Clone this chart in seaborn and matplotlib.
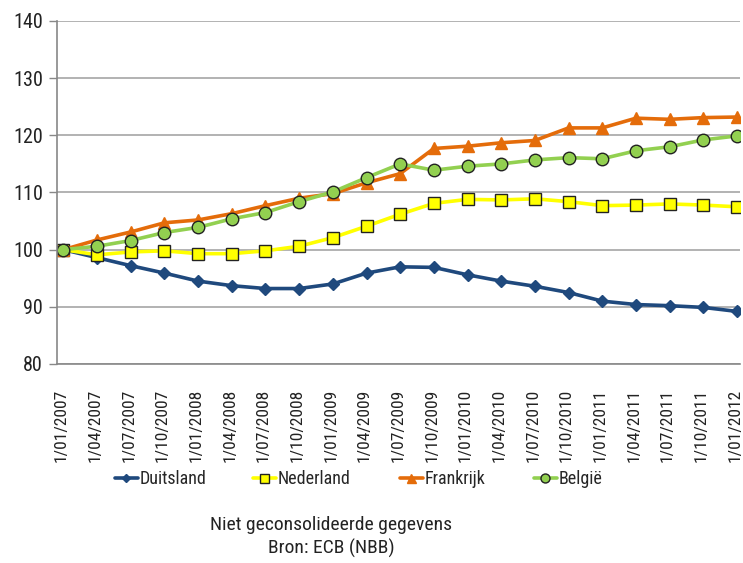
import matplotlib
matplotlib.use("Agg")
import matplotlib.pyplot as plt
from matplotlib import font_manager
from matplotlib.transforms import ScaledTranslation
import seaborn as sns
import pandas as pd

# Quarterly index values (1/01/2007 = 100)
dates = ["1/01/2007", "1/04/2007", "1/07/2007", "1/10/2007",
         "1/01/2008", "1/04/2008", "1/07/2008", "1/10/2008",
         "1/01/2009", "1/04/2009", "1/07/2009", "1/10/2009",
         "1/01/2010", "1/04/2010", "1/07/2010", "1/10/2010",
         "1/01/2011", "1/04/2011", "1/07/2011", "1/10/2011",
         "1/01/2012"]
duitsland = [100.0, 98.6, 97.2, 95.9, 94.5, 93.7, 93.2, 93.2, 94.0, 95.9,
             97.0, 96.9, 95.6, 94.5, 93.6, 92.5, 91.0, 90.4, 90.2, 89.9, 89.2]
nederland = [100.0, 99.1, 99.6, 99.8, 99.3, 99.3, 99.8, 100.6, 102.1, 104.1,
             106.2, 108.1, 108.8, 108.7, 108.9, 108.4, 107.7, 107.8, 108.0, 107.8, 107.5]
frankrijk = [100.0, 101.7, 103.1, 104.7, 105.2, 106.3, 107.7, 109.0, 109.8, 111.7,
             113.3, 117.7, 118.1, 118.7, 119.1, 121.3, 121.3, 123.0, 122.8, 123.1, 123.2]
belgie = [100.0, 100.6, 101.6, 103.0, 103.9, 105.4, 106.5, 108.4, 110.1, 112.6,
          115.0, 113.9, 114.6, 115.0, 115.7, 116.1, 115.9, 117.3, 118.0, 119.2, 119.9]
y_ticks = [80, 90, 100, 110, 120, 130, 140]

series_names = ["Duitsland", "Nederland", "Frankrijk", "België"]
series_values = [duitsland, nederland, frankrijk, belgie]

sns.set_theme(style="white")
installed = {f.name for f in font_manager.fontManager.ttflist}
narrow = [f for f in ["Liberation Sans Narrow", "Arial Narrow", "Roboto Condensed",
                      "Open Sans Condensed"] if f in installed]
families = narrow + [f for f in ["Liberation Sans", "DejaVu Sans"] if f in installed]
plt.rcParams["font.family"] = families
# condensed faces fit wider text; otherwise shrink a little
scale = 1.0 if narrow else 0.86

rows = []
for name, vals in zip(series_names, series_values):
    for i, v in enumerate(vals):
        rows.append({"pos": i, "datum": dates[i], "land": name, "waarde": v})
df = pd.DataFrame(rows)

styles = {
    "Duitsland": dict(color="#1F497D", marker="D", ms=6, mfc="#1F497D", mec="#1F497D", lw=2.6),
    "Nederland": dict(color="#FFFF00", marker="s", ms=9, mfc="#FFFF00", mec="#222222", lw=2.6),
    "Frankrijk": dict(color="#E46C0A", marker="^", ms=9, mfc="#E46C0A", mec="#E46C0A", lw=2.6),
    "België": dict(color="#92D050", marker="o", ms=9, mfc="#92D050", mec="#222222", lw=2.6),
}

fig = plt.figure(figsize=(7.43, 5.63), dpi=100)
ax = fig.add_axes([57 / 743, 1 - 364 / 563, (740 - 57) / 743, (364 - 21) / 563])

palette = {k: v["color"] for k, v in styles.items()}
sns.lineplot(data=df, x="pos", y="waarde", hue="land", hue_order=series_names,
             palette=palette, ax=ax, legend=False, linewidth=2.6)
for line, name in zip(ax.get_lines(), series_names):
    st = styles[name]
    line.set_marker(st["marker"])
    line.set_markersize(st["ms"])
    line.set_markerfacecolor(st["mfc"])
    line.set_markeredgecolor(st["mec"])
    line.set_markeredgewidth(1.0)
    line.set_linewidth(st["lw"])
    line.set_solid_joinstyle("round")

ax.set_ylim(80, 140)
ax.set_xlim(-0.19, 20.09)
ax.set_yticks(y_ticks)
ax.set_yticklabels([str(t) for t in y_ticks], fontsize=14 * scale + 0.5, color="#222222")
ax.yaxis.grid(True, color="#A6A6A6", linewidth=1.2)
ax.set_axisbelow(True)

# labelled positions at the data points, tick marks slightly to the left
ax.set_xticks(range(len(dates)))
ax.set_xticklabels(dates, rotation=90, fontsize=12.5 * scale, color="#222222")
ax.tick_params(axis="x", length=0, pad=18)
shift = ScaledTranslation(-2 / 100, 0, fig.dpi_scale_trans)
for lbl in ax.get_xticklabels():
    lbl.set_transform(lbl.get_transform() + shift)
ax.set_xticks([i - 0.18 for i in range(len(dates))], minor=True)
ax.tick_params(axis="x", which="minor", length=6, width=1, color="#888888", direction="out")
ax.tick_params(axis="y", length=6, width=1, color="#888888", direction="out", left=True, pad=4)

for side in ["top", "right"]:
    ax.spines[side].set_visible(False)
for side in ["left", "bottom"]:
    ax.spines[side].set_color("#888888")
    ax.spines[side].set_linewidth(1.2)
ax.set_xlabel("")
ax.set_ylabel("")

# one legend entry per series, placed along a row beneath the axis labels
legend_x = [115, 253, 400, 534]
for name, lx in zip(series_names, legend_x):
    st = styles[name]
    h, = ax.plot([], [], color=st["color"], marker=st["marker"],
                 ms=st["ms"] * 0.72, mfc=st["mfc"], mec=st["mec"], lw=st["lw"], mew=1.0)
    fig.legend([h], [name], loc="center left", bbox_to_anchor=(lx / 743, 1 - 479 / 563),
               frameon=False, fontsize=13 * scale, handlelength=1.25, handletextpad=0.1,
               borderpad=0, borderaxespad=0)

fig.text(331 / 743, 1 - 525 / 563, "Niet geconsolideerde gegevens", ha="center", va="center",
         fontsize=14 * scale, color="#222222")
fig.text(331 / 743, 1 - 548 / 563, "Bron: ECB (NBB)", ha="center", va="center",
         fontsize=14 * scale, color="#222222")

fig.savefig("out.png", dpi=100, facecolor="white")
